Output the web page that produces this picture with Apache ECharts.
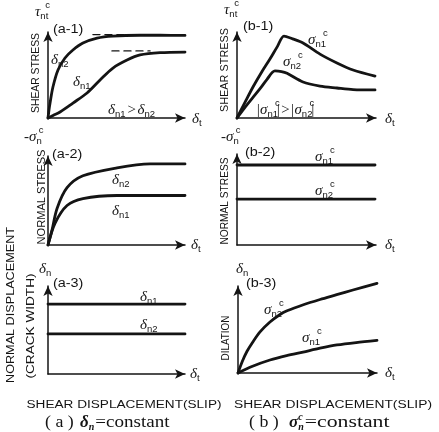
<!DOCTYPE html>
<html><head><meta charset="utf-8">
<script src="https://cdn.jsdelivr.net/npm/echarts@6/dist/echarts.min.js"></script>
<style>html,body{margin:0;padding:0;background:#fff}#c{width:439px;height:432px}</style>
</head><body><div id="c"></div>
<script>
// ---- data (x: shear displacement, y: response), schematic units 0..10 ----
const a1_dn2 = [[0,0],[0.07,0.9],[0.15,1.74],[0.36,3.6],[0.73,5.58],[1.24,6.98],[1.82,7.91],[2.55,8.72],[3.58,9.3],[4.74,9.53],[6.72,9.62],[8.18,9.62],[10,9.6]];
const a1_dn1 = [[0,0],[0.4,0.32],[0.88,0.7],[1.82,1.74],[2.85,2.91],[3.8,4.42],[4.74,5.81],[5.77,6.74],[6.72,7.33],[8.18,7.6],[10,7.67]];
const a1_asym_dn2 = [[3.28,9.7],[7.0,9.7]];
const a1_asym_dn1 = [[4.67,7.8],[7.45,7.8]];
const b1_sn1 = [[0,0],[0.6,1.9],[1.15,3.6],[1.8,5.4],[2.37,6.86],[2.9,8.3],[3.38,9.53],[4.0,9.2],[4.75,8.72],[5.97,7.43],[7.19,6.4],[8.35,5.58],[9.93,4.88]];
const b1_sn2 = [[0,0],[0.6,1.3],[1.15,2.4],[1.7,3.5],[2.16,4.5],[2.73,5.47],[3.2,5.4],[3.6,5.2],[4.75,4.19],[5.97,3.72],[7.19,3.49],[8.35,3.3],[9.93,3.26]];
const a2_dn2 = [[0,0],[0.29,1.67],[0.66,4.11],[1.39,6.44],[2.55,7.78],[5.04,8.67],[7.45,9.11],[10,9.11]];
const a2_dn1 = [[0,0],[0.51,2.44],[1.39,4.44],[2.55,5.22],[5.04,5.56],[10,5.56]];
const b2_sn1 = [[0,8.79],[9.93,8.79]];
const b2_sn2 = [[0,5.05],[9.93,5.05]];
const a3_dn1 = [[0,7.95],[10,7.95]];
const a3_dn2 = [[0,4.55],[10,4.55]];
const b3_sn2 = [[0,0],[0.3,1.3],[0.65,2.5],[1.08,3.6],[1.6,4.75],[2.3,5.86],[3.0,6.7],[3.53,7.15],[4.7,7.85],[5.9,8.45],[7.1,9.0],[8.27,9.54],[10,10.3]];
const b3_sn1 = [[0,0],[1,0.75],[2.3,1.49],[3.5,2.0],[4.68,2.41],[5.9,2.85],[7.12,3.22],[8.5,3.5],[10,3.74]];

// ---- layout ----
const INK = '#141414';
const SANS = '"Liberation Sans", Arial, sans-serif';
const SERIF = '"Liberation Serif", "Times New Roman", serif';
const grids = [
  {left:48, top:32, width:137, height:86},
  {left:237, top:32, width:139, height:86},
  {left:48, top:156, width:137, height:89},
  {left:237, top:154, width:139, height:91},
  {left:48, top:286, width:137, height:88},
  {left:238, top:286, width:139, height:87}
];
function axis(i){
  return {gridIndex:i, type:'value', min:0, max:10,
    axisLine:{show:true, onZero:false, symbol:['none','arrow'], symbolSize:[7,10], lineStyle:{color:INK, width:1.5}},
    axisTick:{show:false}, axisLabel:{show:false}, splitLine:{show:false}};
}
function ln(i, data, smooth, dashed){
  return {type:'line', xAxisIndex:i, yAxisIndex:i, data:data, showSymbol:false, symbol:'none',
    smooth: smooth ? 0.3 : false, clip:false, silent:true,
    lineStyle:{color:INK, width: dashed ? 1.4 : 2.8, type: dashed ? [7,5] : 'solid', cap:'round', join:'round'}};
}

// ---- text helpers ----
const ctx = document.createElement('canvas').getContext('2d');
function mw(t,f){ctx.font=f; return ctx.measureText(t).width;}
const G = [];
function txt(x,y,t,font,sx){G.push({type:'text', x:x, y:y, scaleX: sx||1, silent:true, z:10,
  style:{text:t, font:font, fill:INK, textAlign:'left', textVerticalAlign:'middle'}});}
function fit(x,y,t,font,len,rot){
  const s = len / mw(t,font);
  G.push({type:'text', x:x, y:y, rotation: rot ? Math.PI/2 : 0, scaleX:s, silent:true, z:10,
    style:{text:t, font:font, fill:INK, textAlign:'center', textVerticalAlign:'middle'}});
}
const FG = 'italic 15px ' + SERIF;
const FS = '9.5px ' + SANS;
function seq(x,y,parts){
  let cx = x;
  parts.forEach(p => {
    const [t,f,dy,noAdv,dx,sx] = p;
    cx += (dx||0);
    txt(cx, y + (dy||0), t, f, sx);
    if(!noAdv) cx += mw(t,f)*(sx||1);
  });
  return cx;
}
function sym(x,y,base,sub,sup){
  const parts = [[base,FG,0],[sub,FS,4]];
  if(sup) parts.push([sup,FS,-7,true,-3]);
  return seq(x,y,parts);
}

// axis variable names
sym(35,12,'τ','nt','c');
sym(224,10,'τ','nt','c');
seq(24,137,[['-σ',FG,0],['n',FS,4],['c',FS,-7,true,-3]]);
seq(221,137,[['-σ',FG,0],['n',FS,4],['c',FS,-7,true,-3]]);
sym(39,269,'δ','n');
sym(236,269,'δ','n');
// x variable
sym(192,119,'δ','t'); sym(385,119,'δ','t');
sym(191,245,'δ','t'); sym(385,245,'δ','t');
sym(190,374,'δ','t'); sym(385,373,'δ','t');
// panel tags
const FT = '12px ' + SANS;
txt(53,30,'(a-1)',FT,1.2); txt(243,27,'(b-1)',FT,1.2);
txt(52,155,'(a-2)',FT,1.2); txt(245,153,'(b-2)',FT,1.2);
txt(53,284,'(a-3)',FT,1.2); txt(246,284,'(b-3)',FT,1.2);
// curve labels
sym(51,60,'δ','n2'); sym(73,82,'δ','n1');
let p = sym(108,110,'δ','n1'); txt(p+2,110,'>','15px '+SERIF); sym(p+12,110,'δ','n2');
sym(308,40,'σ','n1','c'); sym(283,62,'σ','n2','c');
seq(256,110,[['|',FG,0],['σ',FG,0],['n1',FS,4],['c',FS,-7,true,-3],['|>|',FG,0,false,1],['σ',FG,0],['n2',FS,4],['c',FS,-7,true,-3],['|',FG,0,false,1]]);
sym(112,180,'δ','n2'); sym(112,211,'δ','n1');
sym(315,157,'σ','n1','c'); sym(315,191,'σ','n2','c');
sym(140,297,'δ','n1'); sym(140,325,'δ','n2');
sym(264,310,'σ','n2','c'); sym(302,338,'σ','n1','c');
// axis titles (vertical)
const FV = '11px ' + SANS;
fit(36,73,'SHEAR STRESS',FV,80,true);
fit(225,70,'SHEAR STRESS',FV,84,true);
fit(42,197,'NORMAL STRESS',FV,95,true);
fit(225,201,'NORMAL STRESS',FV,87,true);
fit(11,305,'NORMAL DISPLACEMENT',FV,156,true);
fit(31,326,'(CRACK WIDTH)',FV,105,true);
fit(226,338,'DILATION',FV,45,true);
// bottom titles
fit(124,405,'SHEAR DISPLACEMENT(SLIP)','10px '+SANS,195,false);
fit(333,405,'SHEAR DISPLACEMENT(SLIP)','10px '+SANS,198,false);
const FB = '17px ' + SERIF;
txt(45,423,'( a )',FB,1.05);
seq(80,423,[['δ','italic bold 17px '+SERIF,0],['n','italic bold 10px '+SERIF,4],['=constant',FB,0,false,1,1.12]]);
txt(249,423,'( b )',FB,1.05);
seq(289,423,[['σ','italic bold 17px '+SERIF,0],['c','italic bold 10px '+SERIF,-6,true],['n','italic bold 10px '+SERIF,4],['=constant',FB,0,false,1,1.28]]);

const option = {
  animation:false,
  backgroundColor:'#fff',
  grid: grids.map(g => Object.assign({outerBoundsMode:'none', containLabel:false}, g)),
  xAxis: grids.map((g,i) => axis(i)),
  yAxis: grids.map((g,i) => axis(i)),
  series: [
    ln(0,a1_dn2,true), ln(0,a1_dn1,true), ln(0,a1_asym_dn2,false,true), ln(0,a1_asym_dn1,false,true),
    ln(1,b1_sn1,true), ln(1,b1_sn2,true),
    ln(2,a2_dn2,true), ln(2,a2_dn1,true),
    ln(3,b2_sn1,false), ln(3,b2_sn2,false),
    ln(4,a3_dn1,false), ln(4,a3_dn2,false),
    ln(5,b3_sn2,true), ln(5,b3_sn1,true)
  ],
  graphic: G
};
const chart = echarts.init(document.getElementById('c'), null, {renderer:'canvas'});
chart.setOption(option);
</script></body></html>
